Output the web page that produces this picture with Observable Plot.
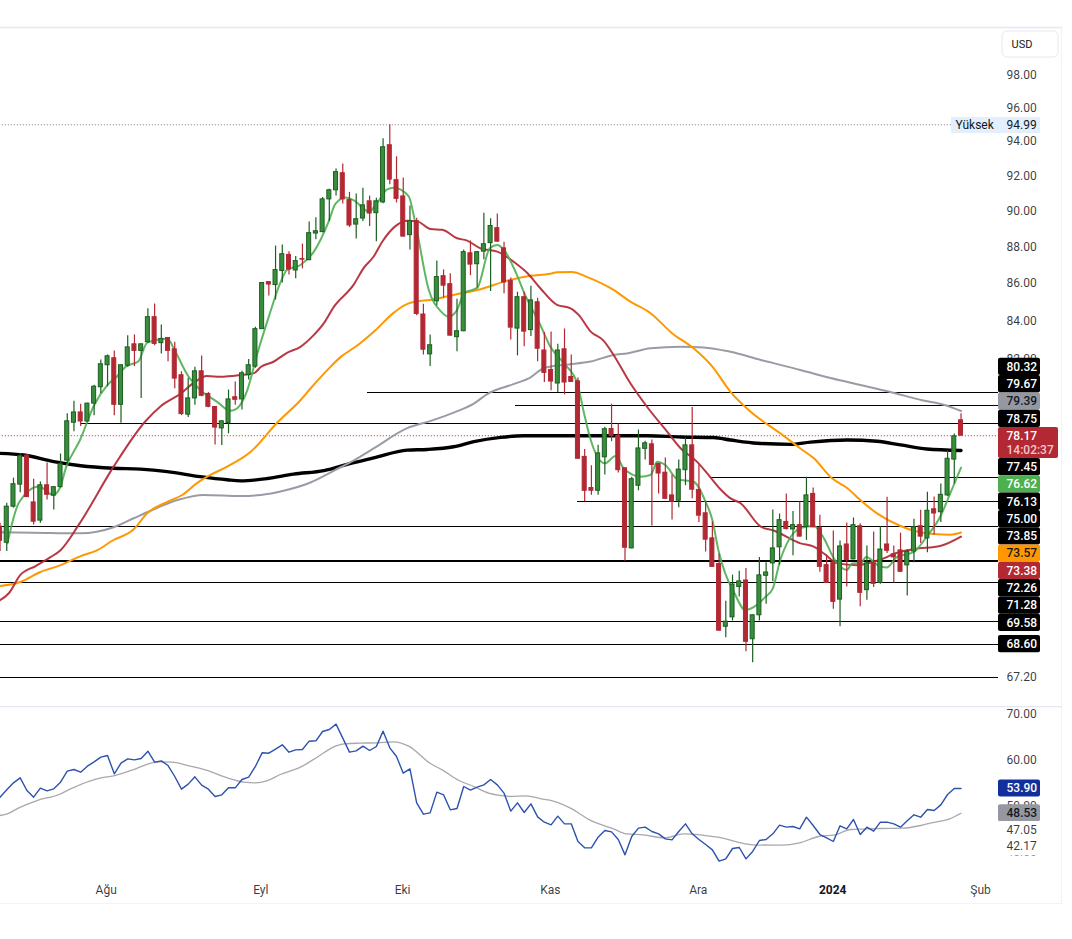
<!DOCTYPE html>
<html>
<head>
<meta charset="utf-8">
<script src="https://cdn.jsdelivr.net/npm/d3@7"></script>
<script src="https://cdn.jsdelivr.net/npm/@observablehq/plot@0.6"></script>
<style>
html,body{margin:0;padding:0;background:#fff}
svg{display:block}
</style>
</head>
<body>
<div id="chart"></div>
<script>
const opens=[73.84,73.10,74.77,75.81,77.20,74.97,74.12,75.78,75.29,75.69,76.96,78.81,79.32,78.87,79.76,80.58,81.70,82.06,79.70,81.68,82.78,82.44,82.89,84.20,82.84,83.11,82.52,81.19,79.21,80.02,81.39,80.24,79.59,78.53,78.80,80.08,79.97,81.20,81.63,83.57,86.07,85.91,86.67,87.55,86.70,87.32,87.26,88.73,88.81,90.65,91.17,92.15,90.61,89.23,89.57,90.54,89.87,90.48,93.78,91.75,90.82,88.64,89.42,84.34,82.26,85.04,86.39,85.96,83.15,83.46,87.64,87.04,87.73,88.20,89.03,87.91,86.14,83.60,85.26,83.52,84.99,82.46,81.46,80.77,82.52,81.10,80.88,77.14,75.65,75.52,77.12,78.50,78.16,76.59,72.84,75.76,77.53,77.75,76.80,76.38,75.30,75.05,76.50,77.70,75.56,74.46,73.30,72.13,69.35,69.76,71.10,71.39,68.81,69.85,71.60,72.16,72.89,74.06,73.71,73.91,73.82,75.37,73.77,72.08,72.17,70.54,73.02,72.34,73.86,70.96,72.17,71.28,73.02,72.57,72.75,72.07,72.70,73.86,73.30,74.65,74.51,75.30,77.01,78.93];
const highs=[74.00,74.93,76.12,77.31,77.25,76.07,75.94,76.85,75.72,77.28,79.25,79.88,79.73,79.78,80.68,81.97,82.23,82.43,81.72,83.22,83.27,82.80,84.64,84.90,83.79,83.13,82.89,81.37,81.04,81.60,82.17,80.32,79.60,78.90,80.44,80.85,81.39,82.00,83.67,86.02,86.09,88.04,88.10,87.73,87.46,88.15,89.38,89.61,90.76,91.23,92.40,92.69,91.05,90.95,91.29,90.84,90.71,94.16,94.99,93.10,91.88,90.27,89.59,84.88,83.27,87.22,86.73,86.52,85.15,87.82,88.32,87.72,89.87,89.55,89.83,88.25,86.29,85.53,85.53,85.85,85.20,83.39,83.42,82.78,83.58,82.23,81.05,77.50,76.71,77.70,78.59,79.73,78.75,76.61,76.16,78.45,77.90,77.96,76.82,77.09,76.27,76.99,78.05,79.57,76.75,75.00,74.07,72.58,70.47,71.63,71.80,71.93,69.87,72.43,72.19,74.62,74.43,75.37,74.55,74.99,76.16,75.65,74.37,72.54,73.64,73.18,74.01,74.24,73.97,72.95,73.59,73.84,75.21,72.95,73.54,72.79,74.18,74.60,75.45,75.22,75.84,77.44,78.26,79.25];
const lows=[72.70,72.70,74.70,75.43,75.21,73.92,74.00,75.08,74.62,75.65,76.75,78.37,78.62,78.85,79.16,80.27,80.61,79.16,78.78,81.60,81.63,80.02,82.84,82.70,82.28,81.88,80.51,79.16,79.07,79.68,80.10,79.55,77.72,77.69,78.26,79.68,79.44,80.95,81.55,83.55,85.33,85.11,86.02,86.46,86.25,86.79,87.24,88.38,88.78,89.40,90.84,90.39,89.07,88.43,89.40,89.12,88.28,90.40,91.49,90.45,88.54,87.82,84.27,82.23,81.63,84.81,85.22,83.20,82.39,83.44,86.42,85.75,87.28,85.56,88.25,85.44,83.01,82.18,82.65,83.18,81.88,80.82,80.41,80.31,80.20,80.83,77.03,75.00,75.31,75.31,76.27,77.88,76.36,72.26,72.82,75.52,76.99,73.87,75.37,75.12,74.15,74.72,75.76,75.14,74.03,72.68,71.98,69.16,68.87,69.60,70.66,68.27,67.80,69.60,70.33,71.33,72.08,73.69,72.50,73.36,73.21,73.79,71.76,71.26,70.11,69.35,71.10,72.32,70.22,70.51,71.08,71.22,72.61,71.28,71.76,70.70,72.19,73.07,72.64,73.45,74.03,75.24,75.84,78.17];
const closes=[73.19,74.77,75.83,77.18,75.22,74.07,75.78,75.33,75.69,76.80,78.88,79.32,78.87,79.76,80.61,81.75,82.16,79.70,81.70,82.62,82.44,82.78,84.20,82.80,83.06,82.44,81.02,79.24,80.02,81.39,80.15,79.60,78.57,78.88,79.97,79.95,81.29,81.70,83.57,86.02,85.94,86.72,87.59,86.75,87.21,87.29,88.75,88.86,90.65,91.17,92.21,90.65,89.18,89.53,90.31,89.85,90.54,93.66,91.78,90.68,88.56,89.42,84.37,82.50,82.73,86.34,85.88,83.23,83.46,87.70,87.02,87.70,88.14,89.15,88.28,86.05,83.65,85.26,83.44,85.09,82.55,81.31,80.87,82.46,80.82,80.85,77.05,75.52,75.52,77.31,78.49,78.16,76.50,72.87,76.07,77.55,77.80,76.75,76.34,75.14,75.00,76.53,77.70,75.57,74.35,73.24,72.00,69.18,69.57,71.21,71.35,68.70,69.85,71.62,71.75,72.84,74.14,73.73,73.91,73.38,75.30,73.81,72.00,71.28,70.44,72.93,72.31,73.91,70.84,72.16,71.24,72.79,72.73,72.43,71.78,72.68,73.81,73.38,74.58,74.45,75.33,77.05,78.14,78.17];

const fastAt=[1.1,2.8,5.8,7.9,8.9,9.8,11.9,14,16,17.4,18.7,20.6,21.9,24.9,26.1,27.9,29.8,32.3,34.3,35.3,36.8,38.3,40,41.7,42.7,44.7,46.7,48.9,49.9,51.4,52.6,54.9,56.1,57.6,58.6,60.8,61.8,63.8,65.6,66.8,68,69.1,71,72.9,74,75,76.7,78,80.4,81.9,83.9,85.9,86.9,87.9,90,91.6,92.8,95.3,96.8,97.8,99,100.8,103.2,105,106,106.9,107.9,109.2,110.9,112.2,113.9,115,116.1,117.1,119.1,121.1,122.6,124.1,126,126.8,128.1,128.9,130.6,131.9,133.5,136,137.9,139.9,141.4,143];
const fastValues=[73.08,74.95,75.72,75.32,75.65,76.61,77.96,79.68,80.70,81.13,81.63,81.91,82.87,83.07,82.39,81.20,80.44,79.85,79.40,79.53,80.44,82.32,84.23,86.03,86.73,87.00,87.73,89.40,90.39,90.76,90.61,89.96,90.44,91.22,91.32,90.84,89.32,85.65,84.51,84.23,84.58,85.49,85.76,87.93,88.10,87.82,86.64,85.49,83.79,82.65,81.80,80.78,79.28,77.96,76.83,77.18,76.59,76.19,76.27,76.91,76.75,76.07,75.95,75.00,74.15,72.76,71.72,70.88,70.08,70.22,70.66,71.04,72.31,73.07,73.77,73.87,73.30,72.38,71.86,72.16,72.18,72.45,72.08,71.97,72.45,72.68,73.38,74.30,75.40,76.62];
const midAt=[0,1.3,3,5.3,7.5,9,11.7,16.9,21.6,23.9,26.9,28.8,30.8,32.8,35.8,37.8,38.8,40.7,42.7,44.7,46.7,48.2,49.7,52.6,54.1,55.6,56.9,58.8,60.6,62.1,64.1,65.8,68,69.5,71.5,74,76.7,78.5,80.4,82.9,84.9,86.1,87.9,89.8,91.3,93.8,96.3,99.3,101.3,103.7,105.2,107.2,108.7,110.2,113.2,115.1,119.1,121.1,122.6,124.6,127.5,131,133.5,136,139.9,143];
const midValues=[70.51,70.82,71.63,72.04,72.44,72.76,73.92,76.67,78.87,79.63,80.27,80.80,81.15,81.11,81.20,81.30,81.61,81.88,82.34,82.65,83.27,83.89,84.76,85.92,86.83,87.46,88.29,89.13,89.45,89.41,88.98,88.94,88.47,88.34,87.91,87.73,87.10,86.55,85.74,84.85,84.67,84.32,83.44,82.97,82.23,80.78,79.59,78.36,77.55,76.91,76.36,75.59,75.16,74.93,73.84,73.66,73.07,72.92,72.61,72.16,72.08,72.33,72.64,72.81,72.95,73.38];
const slowAt=[0,3,6,9,12,14.5,16.7,19.9,21.9,24.9,27.1,29.3,31.3,33.8,37.3,41.4,44.7,46.2,49.2,50.7,52.9,55.9,58.6,60.8,64.6,67.5,71.5,75.5,78.9,81.9,82.9,85.1,87.4,91.3,93.8,96.8,100,103.2,106,108.7,111.7,116.1,119.1,121.1,123.8,126.1,128,130.5,134,136,138.9,141.4,143];
const slowValues=[71.14,71.32,71.77,72.08,72.49,72.76,73.19,73.72,74.46,75.00,75.32,75.88,76.27,76.67,77.39,78.87,79.93,80.52,81.63,82.13,82.65,83.53,84.44,84.93,85.15,85.38,85.69,86.15,86.41,86.52,86.61,86.62,86.34,85.65,85.02,84.41,83.36,82.57,81.63,80.35,79.35,78.29,77.55,77.07,76.11,75.64,75.08,74.46,73.87,73.65,73.50,73.47,73.57];
const hundredAt=[0,5,12,16.9,19.9,22.4,26.4,30.3,35.8,38.8,42.2,46.2,49.7,52.6,55.6,60.6,64.1,67.5,70.5,72.5,76.5,78.9,80.9,83.9,87.9,91.3,93.3,96.8,101.3,104.7,108.7,113.2,119.1,123.6,128,132.5,137.2,140.7,143];
const hundredValues=[73.58,73.56,73.53,73.81,74.23,74.58,75.08,75.32,75.27,75.32,75.52,75.91,76.48,76.96,77.55,78.54,78.90,79.31,79.76,80.24,80.75,81.07,81.55,81.72,81.89,82.23,82.31,82.57,82.65,82.62,82.39,81.97,81.46,81.05,80.70,80.34,79.93,79.68,79.39];
const longAt=[0,3.5,8,12,16.9,20.9,24.9,29.8,33.8,35.8,39.8,43.7,48.2,52.2,55.6,60.6,63.6,67.5,70.5,74.5,77.9,86.4,96.3,101.3,106.2,108.7,112.7,117.6,120.6,126.1,130.5,134,137.9,143];
const longValues=[77.31,77.23,76.91,76.71,76.59,76.55,76.43,76.19,76.04,75.99,76.10,76.31,76.48,76.83,77.09,77.47,77.50,77.63,77.88,78.09,78.17,78.17,78.17,78.11,78.08,77.96,77.80,77.75,77.86,77.96,77.90,77.72,77.52,77.45];

const rsiValues=[52.03,53.62,55.14,56.23,53.48,52.03,53.99,53.41,53.84,55.29,57.68,58.04,57.46,58.77,59.71,60.72,61.09,57.10,59.42,60.36,60.14,60.43,62.03,59.64,59.93,58.91,56.52,53.77,54.86,56.45,54.64,53.77,52.17,52.54,54.06,54.06,55.87,56.38,58.70,61.67,61.59,62.46,63.41,61.81,62.32,62.39,64.20,64.28,66.30,66.74,67.90,64.86,61.81,62.10,63.12,62.17,63.04,66.38,62.75,60.87,57.25,58.19,50.80,48.33,48.62,53.12,52.54,49.28,49.57,54.35,53.55,54.20,54.71,55.87,54.71,52.90,48.99,50.80,48.70,50.58,47.75,46.59,46.01,47.90,46.23,46.23,42.39,41.01,41.01,43.33,44.78,44.49,42.83,39.49,43.48,45.29,45.51,44.57,44.06,42.97,42.75,44.57,46.23,44.06,42.83,41.74,40.58,38.12,38.62,40.87,41.09,38.62,40.22,42.61,42.83,44.06,45.94,45.51,45.65,45.14,47.68,45.87,43.91,43.19,42.39,45.80,45.14,47.17,43.91,45.51,44.64,46.59,46.59,46.23,45.51,46.88,48.19,47.68,49.35,49.13,50.36,52.61,53.90,53.90];
const signalAt=[0,1.1,2.8,5.5,8.8,10.5,15,16.9,19.9,22.1,23.9,25.6,28.3,30.8,33.8,36.3,38,39.8,41.7,44.7,47.2,49.9,51.2,53.6,56.1,58.6,60.8,64.1,65.8,68.3,70.5,72.7,74.5,75.9,78.3,80.5,81.8,84.8,88.1,91.3,93.2,95.7,98.9,101.7,106.8,112,116.3,119,121.8,124.2,126.6,131,134.3,137,138.6,141.3,143];
const signalValues=[48.04,48.41,49.71,51.30,52.61,53.84,56.23,56.67,58.04,59.28,59.71,59.64,58.77,57.83,56.23,55.29,55.14,55.65,56.96,58.55,60.72,63.12,63.62,63.77,63.84,64.06,63.12,59.28,57.97,55.65,54.35,52.90,52.39,52.17,52.32,51.67,51.38,49.71,46.81,45.14,44.06,43.84,43.19,44.06,43.33,41.67,41.59,42.10,43.48,43.84,45.00,45.22,45.29,45.87,46.45,47.32,48.53];

const priceTicks=[98,96,94,92,90,88,86,84,82,70,67.2];
const levelPrices=[80.32,79.67,78.75,76.13,75.00,73.85,72.26,71.28,69.58,68.60,67.20];
const levelStartIndex=[54.7,76.7,12,105.7,85.9,-1,-1,-1,-1,-1,-1];
const highPrice=94.99;
const lastPrice=78.17;
const countdown="14:02:37";
const priceLabels=[
  {value:80.32,bg:"#000",fg:"#fff"},{value:79.67,bg:"#000",fg:"#fff"},{value:79.39,bg:"#9598a1",fg:"#131722"},
  {value:78.75,bg:"#000",fg:"#fff"},{value:77.45,bg:"#000",fg:"#fff"},{value:76.62,bg:"#4caf50",fg:"#fff"},
  {value:76.13,bg:"#000",fg:"#fff"},{value:75.00,bg:"#000",fg:"#fff"},{value:73.85,bg:"#000",fg:"#fff"},
  {value:73.57,bg:"#ff9800",fg:"#131722"},{value:73.38,bg:"#b22833",fg:"#fff"},{value:72.26,bg:"#000",fg:"#fff"},
  {value:71.28,bg:"#000",fg:"#fff"},{value:69.58,bg:"#000",fg:"#fff"},{value:68.60,bg:"#000",fg:"#fff"}
];
const rsiTicks=[70,60,50,40];
const rsiBoxes=[{value:53.90,bg:"#12309b",fg:"#fff"},{value:48.53,bg:"#9598a1",fg:"#131722"}];
const rsiLevels=[47.05,42.17];
const monthNames=["Ağu","Eyl","Eki","Kas","Ara","Şub"];
const monthIndex=[15.8,38.8,59.9,81.9,103.9,145.9];
const yearName=["2024"];
const yearIndex=[123.9];

const UP="#388e3c",UP_EDGE="#1b5e20",DOWN="#b22833";
const FONT="Roboto, sans-serif", INK="#131722", RULE="#e6e8ef";
const X0=-0.46,X1=960.5;
const xv=px=>(px-X0)/((X1-X0)/143);
const yScale=d3.scaleLog([67.2,98],[676.5,74.5]);
const yv=px=>yScale.invert(px);

const candles=opens.map((o,i)=>({i,o,h:highs[i],l:lows[i],c:closes[i]}));
const colorOf=d=>d.c>=d.o?UP:DOWN;
const edgeOf=d=>d.c>=d.o?UP_EDGE:DOWN;

// stack the right-hand price tags so that they do not overlap
const HALF=8.65;
const up=priceLabels.filter(d=>d.value>lastPrice).sort((a,b)=>a.value-b.value);
const down=priceLabels.filter(d=>d.value<lastPrice).sort((a,b)=>b.value-a.value);
let edge=427;
for(const d of up){d.py=Math.min(yScale(d.value),edge-HALF);edge=d.py-HALF;}
edge=458;
for(const d of down){d.py=Math.max(yScale(d.value),edge+HALF);edge=d.py+HALF;}

const line=(at,vals,stroke,strokeWidth,strokeOpacity=1)=>Plot.line(at.map((x,k)=>({x,y:vals[k]})),{x:"x",y:"y",stroke,strokeWidth,strokeOpacity,curve:"monotone-x",strokeLinejoin:"round"});
const fmt=d=>d.toFixed(2);

const priceChart=Plot.plot({
  width:1062,height:706,marginLeft:0,marginRight:0,marginTop:27,marginBottom:0,
  style:{fontFamily:FONT,fontSize:"12px",background:"#fff"},
  x:{domain:[0,143],range:[X0,X1],axis:null},
  y:{type:"log",domain:[67.2,98],range:[676.5,74.5],axis:null},
  color:{type:"identity"},
  marks:[
    Plot.frame({anchor:"top",stroke:RULE,strokeWidth:1.5}),
    Plot.frame({anchor:"right",stroke:RULE,strokeWidth:2}),
    Plot.text(priceTicks,{y:d=>d,x:()=>xv(1006),text:fmt,textAnchor:"start",fill:INK,fillOpacity:0.85}),
    Plot.ruleY([highPrice],{x1:()=>-1,x2:()=>xv(951),stroke:"#787b86",strokeDasharray:"1,2"}),
    Plot.ruleY([lastPrice],{x1:()=>-1,x2:()=>xv(998),stroke:DOWN,strokeDasharray:"1,2"}),
    Plot.ruleY(levelPrices,{x1:(d,i)=>levelStartIndex[i],x2:()=>xv(998),stroke:"#000",strokeWidth:d=>d===72.26?2:1,shapeRendering:"crispEdges"}),
    line(longAt,longValues,"#000",3.4),
    line(hundredAt,hundredValues,"#9b9ba6",2),
    line(slowAt,slowValues,"#ff9800",2),
    line(midAt,midValues,"#b22833",2,0.92),
    line(fastAt,fastValues,"#4caf50",2,0.9),
    Plot.ruleX(candles,{x:"i",y1:"l",y2:"h",stroke:edgeOf,strokeWidth:1.2}),
    Plot.rect(candles,{x1:d=>d.i-0.3,x2:d=>d.i+0.3,y1:d=>Math.min(d.o,d.c),y2:d=>Math.max(d.o,d.c),fill:colorOf,stroke:edgeOf,strokeWidth:1}),
    // high tag
    Plot.rect([highPrice],{x1:()=>xv(951),x2:()=>xv(1040),y1:()=>yv(117),y2:()=>yv(133),fill:"#e3effd"}),
    Plot.text(["Yüksek"],{x:()=>xv(955),y:()=>highPrice,textAnchor:"start",fill:INK}),
    Plot.text([highPrice],{x:()=>xv(1006),y:d=>d,text:fmt,textAnchor:"start",fill:INK}),
    // currency box
    Plot.rect(["USD"],{x1:()=>xv(1002),x2:()=>xv(1058),y1:()=>yv(31),y2:()=>yv(57),fill:"#fff",stroke:RULE,rx:5}),
    Plot.text(["USD"],{x:()=>xv(1021.5),y:()=>yv(44),fill:INK,fontSize:11}),
    // stacked tags
    Plot.rect(priceLabels,{x1:()=>xv(998),x2:()=>xv(1040),y1:d=>yv(d.py-HALF),y2:d=>yv(d.py+HALF),fill:d=>d.bg,rx:2}),
    Plot.text(priceLabels,{x:()=>xv(1006),y:d=>yv(d.py),text:d=>fmt(d.value),textAnchor:"start",fill:d=>d.fg,fontWeight:500}),
    // last price tag with countdown
    Plot.rect([lastPrice],{x1:()=>xv(998),x2:()=>xv(1058),y1:()=>yv(427),y2:()=>yv(458),fill:DOWN,rx:2}),
    Plot.text([lastPrice],{x:()=>xv(1006),y:d=>d,text:fmt,textAnchor:"start",fill:"#fff",fontWeight:500}),
    Plot.text([countdown],{x:()=>xv(1006),y:()=>yv(450),textAnchor:"start",fill:"#f2c6ca",fontWeight:500})
  ]
});

const rsiX=[0,143];
const rsiY=d3.scaleLinear([70,40],[8,146]);
const rsiChart=Plot.plot({
  width:1062,height:198,marginLeft:0,marginRight:0,marginTop:0,marginBottom:0,
  style:{fontFamily:FONT,fontSize:"12px",background:"#fff"},
  x:{domain:rsiX,range:[X0,X1],axis:null},
  y:{domain:[70,40],range:[8,146],axis:null},
  color:{type:"identity"},
  marks:[
    Plot.frame({anchor:"top",stroke:RULE,strokeWidth:1.5}),
    Plot.frame({anchor:"bottom",stroke:RULE,strokeWidth:2}),
    Plot.frame({anchor:"right",stroke:RULE,strokeWidth:2}),
    Plot.line(signalAt.map((x,k)=>({x,y:signalValues[k]})),{x:"x",y:"y",stroke:"#a8a8ae",strokeWidth:1.3,curve:"monotone-x"}),
    Plot.line(rsiValues.map((y,x)=>({x,y})),{x:"x",y:"y",stroke:"#2c52ad",strokeWidth:1.4}),
    Plot.text(rsiTicks,{x:()=>xv(1006),y:d=>d,text:fmt,textAnchor:"start",fill:INK,fillOpacity:0.85}),
    Plot.rect(rsiBoxes,{x1:()=>xv(998),x2:()=>xv(1040),y1:d=>rsiY.invert(rsiY(d.value)-8.5),y2:d=>rsiY.invert(rsiY(d.value)+8.5),fill:d=>d.bg,rx:2}),
    Plot.text(rsiBoxes,{x:()=>xv(1006),y:"value",text:d=>fmt(d.value),textAnchor:"start",fill:d=>d.fg,fontWeight:500}),
    Plot.rect(rsiLevels,{x1:()=>xv(1000),x2:()=>xv(1040),y1:(d,i)=>rsiY.invert(i?132:115),y2:(d,i)=>rsiY.invert(i?149.5:131),fill:"#fff"}),
    Plot.text(rsiLevels,{x:()=>xv(1006),y:(d,i)=>rsiY.invert(i?140:123.5),text:fmt,textAnchor:"start",fill:INK,fillOpacity:0.85}),
    Plot.text(monthNames,{x:(d,i)=>monthIndex[i],y:()=>rsiY.invert(184),text:d=>d,fill:INK,fillOpacity:0.85}),
    Plot.text(yearName,{x:(d,i)=>yearIndex[i],y:()=>rsiY.invert(184),text:d=>d,fill:INK,fontWeight:700})
  ]
});
document.getElementById("chart").append(priceChart,rsiChart);
</script>
</body>
</html>
